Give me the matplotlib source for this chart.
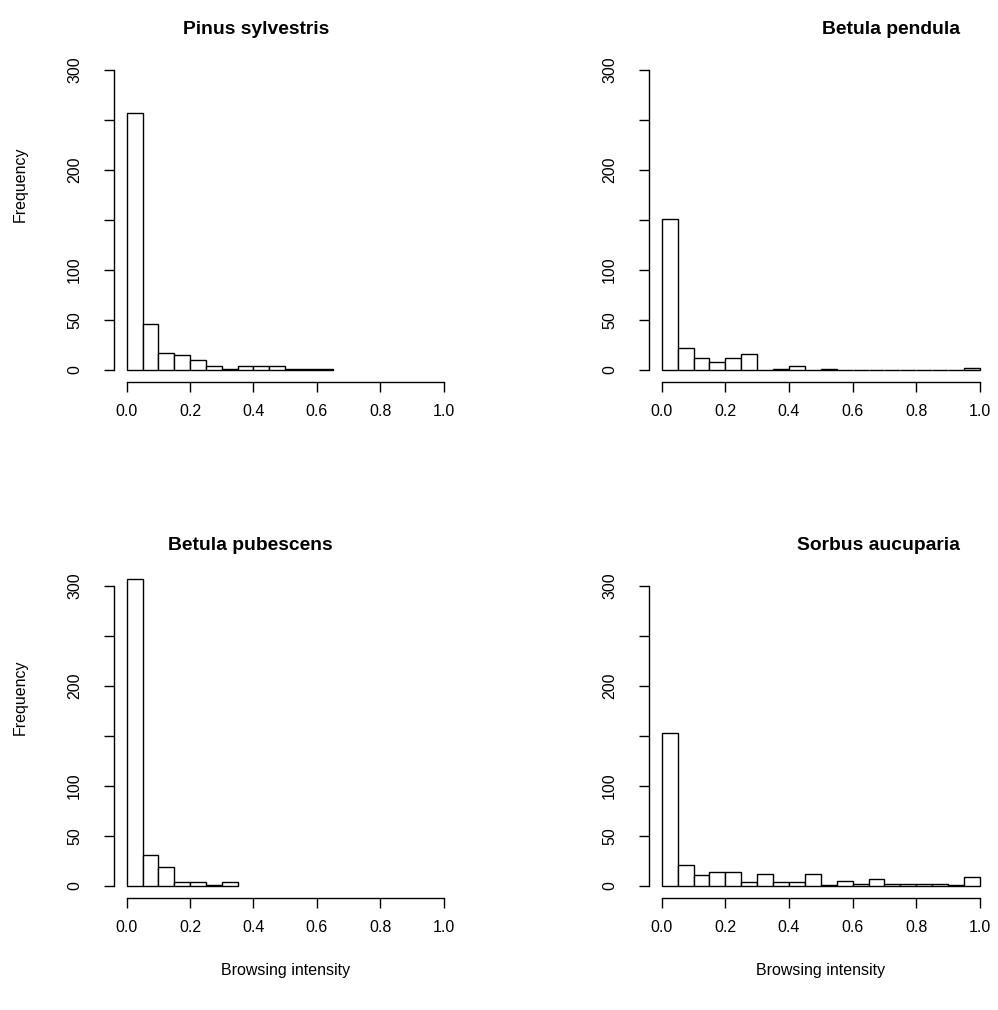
import numpy as np
import matplotlib
matplotlib.use("Agg")
import matplotlib.pyplot as plt

plt.rcParams['font.family'] = ['Liberation Sans', 'DejaVu Sans']

# ---- data (bin width 0.05, starting at 0) ----
titles = ["Pinus sylvestris", "Betula pendula", "Betula pubescens", "Sorbus aucuparia"]
pinus_counts = [257, 46, 17, 15, 10, 4, 1, 4, 4, 4, 1, 1, 1]
pendula_counts = [151, 22, 12, 8, 12, 16, 0, 1, 4, 0, 1, 0, 0, 0, 0, 0, 0, 0, 0, 2]
pubescens_counts = [307, 31, 19, 4, 4, 1, 4]
sorbus_counts = [153, 21, 11, 14, 14, 4, 12, 4, 4, 12, 1, 5, 2, 7, 2, 2, 2, 2, 1, 9]
bin_width = 0.05
x_ticks = [0.0, 0.2, 0.4, 0.6, 0.8, 1.0]
x_ticklabels = ["0.0", "0.2", "0.4", "0.6", "0.8", "1.0"]
y_ticks = [0, 50, 100, 150, 200, 250, 300]
y_ticklabels = ["0", "50", "100", "", "200", "", "300"]
x_label = "Browsing intensity"
y_label = "Frequency"

all_counts = [pinus_counts, pendula_counts, pubescens_counts, sorbus_counts]

W, H = 998, 1010
fig = plt.figure(figsize=(W / 100, H / 100), dpi=100)

# plot regions in pixels: (left, top, right, bottom)
regions = [
    (114, 58, 456.3, 382),
    (649, 58, 992.7, 382),
    (114, 574, 456.3, 898),
    (649, 574, 992.7, 898),
]
title_pos = [(256, 30), (891, 30), (250, 546), (878, 546)]
ylab_pos = [(20, 184), None, (20, 697), None]

for i, (title, counts) in enumerate(zip(titles, all_counts)):
    l, t, r, b = regions[i]
    ax = fig.add_axes([l / W, 1 - b / H, (r - l) / W, (b - t) / H])
    edges = np.arange(len(counts)) * bin_width
    ax.bar(edges, counts, width=bin_width, align='edge', facecolor='white',
           edgecolor='black', linewidth=1.0)
    ax.set_xlim(-0.04, 1.04)
    ax.set_ylim(-12, 312)
    for s in ['top', 'right']:
        ax.spines[s].set_visible(False)
    ax.spines['left'].set_bounds(0, 300)
    ax.spines['bottom'].set_bounds(0, 1)
    ax.spines['left'].set_linewidth(1.0)
    ax.spines['bottom'].set_linewidth(1.0)
    ax.set_xticks(x_ticks)
    ax.set_xticklabels(x_ticklabels, fontsize=11.5)
    ax.set_yticks(y_ticks)
    ax.set_yticklabels(y_ticklabels, fontsize=11.5, rotation=90, va='center')
    ax.tick_params(axis='both', length=7, width=1.0, direction='out')
    ax.tick_params(axis='x', pad=9)
    ax.tick_params(axis='y', pad=16)
    tx, ty = title_pos[i]
    fig.text(tx / W, 1 - ty / H, title, fontsize=13.9, fontweight='bold',
             ha='center', va='center')
    if ylab_pos[i] is not None:
        yx, yy = ylab_pos[i]
        fig.text(yx / W, 1 - yy / H, y_label, fontsize=11.5, rotation=90,
                 ha='center', va='center')
    if i >= 2:
        ax.set_xlabel(x_label, fontsize=11.5, labelpad=20)

fig.savefig("out.png", dpi=100)
